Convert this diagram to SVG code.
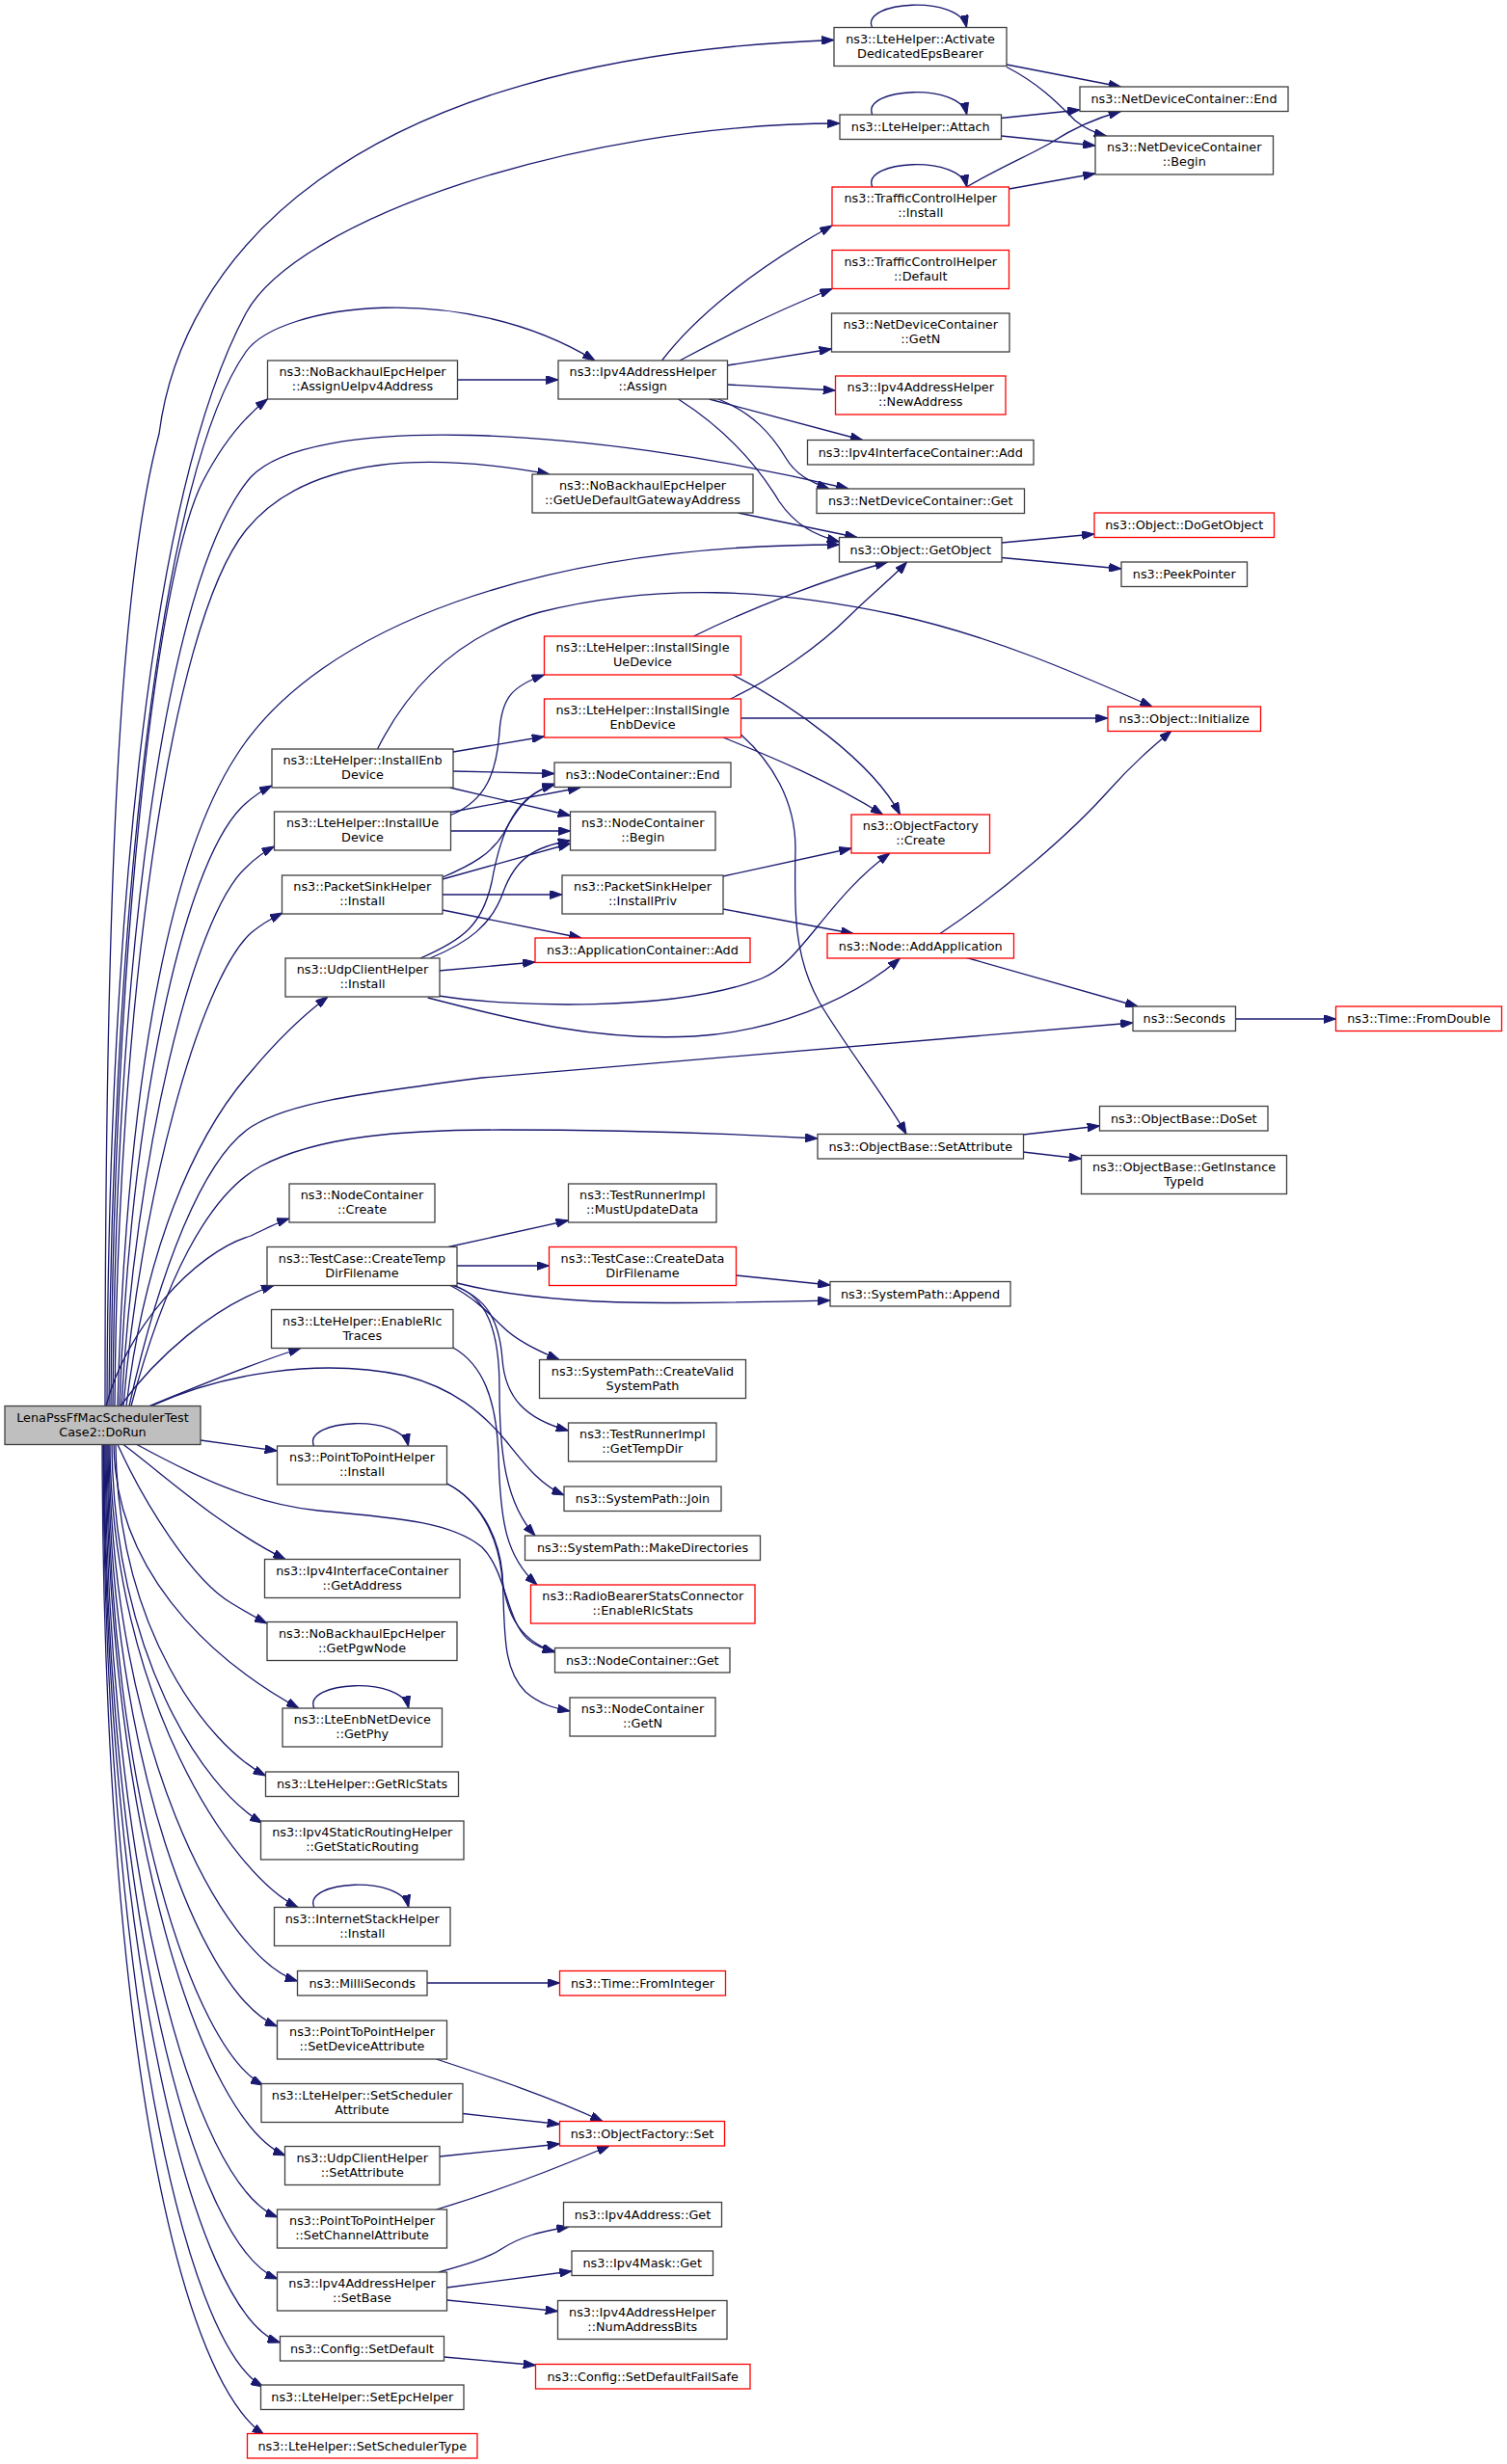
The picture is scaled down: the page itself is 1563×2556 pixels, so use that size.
<svg xmlns="http://www.w3.org/2000/svg" width="1563" height="2556" viewBox="0 0 1563 2556">
<defs>
<style>
.n rect{fill:#fff;stroke:#404040;stroke-width:1.3}
.n.r rect{stroke:#ff0000}
.n.root rect{fill:#bfbfbf}
text{font-family:"DejaVu Sans","Liberation Sans",sans-serif;font-size:12.8px;text-anchor:middle;fill:#000}
#edges path{fill:none;stroke:#191970;stroke-width:1.3;marker-end:url(#a)}
</style>
<marker id="a" viewBox="0 0 12.8 9" refX="12.8" refY="4.5" markerWidth="12.8" markerHeight="9" markerUnits="userSpaceOnUse" orient="auto">
<path d="M0,0L12.8,4.5L0,9z" fill="#191970" stroke="#191970" stroke-width="1"/>
</marker>
</defs>
<rect width="1563" height="2556" fill="#fff"/>
<g id="edges">
<path d="M109,1458.5 C109,900 125,600 165,450 C187.5,275 350,60 865,41.5"/>
<path d="M111,1458.5 C112,1000 150,520 255,325 C307.5,227.5 600,128 871,128"/>
<path d="M113,1458.5 C115,1000 160,500 255,365 C290,315 480,290 617,374"/>
<path d="M115,1458.5 C118,1000 160,600 210,500 C228,465 250,435 277.5,414"/>
<path d="M117,1458.5 C120,1000 170,600 260,495 C320,430 600,440 880,507"/>
<path d="M119,1458.5 C122,1050 175,650 255,550 C320,470 450,470 570,492"/>
<path d="M122,1458.5 C130,1150 170,900 245,784 C330,650 560,565 870.5,565"/>
<path d="M124,1458.5 C135,1150 190,900 250,838 C262,826 272,820 282,815"/>
<path d="M126,1458.5 C140,1200 200,950 255,900 C265,890 275,883 284.5,878"/>
<path d="M128,1458.5 C145,1250 205,1020 260,968 C272,958 283,952 293,947"/>
<path d="M131,1458.5 C150,1300 200,1180 260,1112 C285,1082 312,1055 340,1034"/>
<path d="M134,1458.5 C165,1320 210,1200 262,1168 C300,1145 360,1136 500,1118 L1175,1061"/>
<path d="M136,1458.5 C170,1330 215,1240 270,1210 C330,1178 420,1172 520,1172 C650,1172 760,1176 848,1181"/>
<path d="M110,1458.5 C130,1380 200,1300 260,1282 C275,1275 288,1268 300,1264"/>
<path d="M125,1458.5 C160,1410 220,1355 284,1333.5"/>
<path d="M155,1458.5 C200,1440 260,1415 312,1398.5"/>
<path d="M157,1458.5 C230,1425 330,1408 420,1427 C470,1440 500,1465 525,1495 C545,1520 560,1540 585,1551"/>
<path d="M208,1494 L287.5,1505"/>
<path d="M142,1498.5 C200,1530 260,1560 330,1567 C420,1575 470,1580 500,1605 C525,1630 525,1680 547,1700 C555,1707 565,1711 575.5,1713"/>
<path d="M128,1498.5 C170,1530 230,1585 296,1617.5"/>
<path d="M122,1498.5 C150,1560 200,1640 240,1663 C255,1672 265,1678 277,1684"/>
<path d="M118,1498.5 C120,1650 250,1740 310,1772"/>
<path d="M120,1498.5 C122,1690 215,1810 275.5,1842"/>
<path d="M116,1498.5 C118,1715 210,1855 272,1891"/>
<path d="M114,1498.5 C116,1760 240,1945 309,1978.5"/>
<path d="M113,1498.5 C115,1810 230,2030 308.5,2055"/>
<path d="M112,1498.5 C114,1830 210,2070 287.5,2102"/>
<path d="M111,1498.5 C113,1860 200,2125 273,2163"/>
<path d="M110,1498.5 C112,1900 210,2200 296,2236"/>
<path d="M109,1498.5 C111,1940 200,2265 288,2300"/>
<path d="M108,1498.5 C110,1980 200,2330 288,2364"/>
<path d="M107.5,1498.5 C109,2020 200,2400 290.5,2430"/>
<path d="M107,1498.5 C108,2050 190,2430 273,2476"/>
<path d="M106,1498.5 C107,2090 180,2460 274,2526"/>
<path d="M474.5,394 L579,394"/>
<path d="M470,780 L564.5,764"/>
<path d="M470,800 L575,802.5"/>
<path d="M466.5,817 L591.5,846"/>
<path d="M391.5,777 C420,720 470,660 560,635 C680,605 800,610 930,638 C1030,660 1120,700 1195,733"/>
<path d="M467.5,845.5 C505,830 515,800 518,760 C520,725 530,712 564.5,700"/>
<path d="M467.5,842.5 L601.8,817"/>
<path d="M467.5,862 L591.5,862"/>
<path d="M459,910 C490,897 510,885 522,865 C535,840 548,822 575,813"/>
<path d="M459,912 L591.5,875"/>
<path d="M459,928 L583,928"/>
<path d="M459,944 L603,973"/>
<path d="M436,994 C480,975 500,960 510,915 C520,860 535,825 575,814"/>
<path d="M446,994 C485,978 510,960 522,925 C535,890 555,878 591.5,872"/>
<path d="M455,1007 L555,998"/>
<path d="M455,1033 C530,1045 700,1050 790,1015 C830,1000 860,930 923,885"/>
<path d="M443.7,1035 C540,1060 620,1080 720,1075 C800,1070 880,1040 933.5,994"/>
<path d="M750,909 L883,880"/>
<path d="M750,943 L885,968.5"/>
<path d="M719.5,660 C780,630 860,600 920.5,583"/>
<path d="M760,700 C820,730 905,790 933.5,845"/>
<path d="M757.5,725 C800,705 850,670 880,640 C905,615 925,600 940.5,583"/>
<path d="M768.5,745 L1149,745"/>
<path d="M750,765 C800,785 860,810 915.6,845"/>
<path d="M768.5,762 C800,790 825,830 825,880 C824,940 822,990 850,1040 C880,1090 920,1140 940,1176.5"/>
<path d="M686.5,374 C720,330 780,280 863,234"/>
<path d="M705,374 C750,350 800,325 863,299.5"/>
<path d="M754.5,379 L862.5,362"/>
<path d="M754.5,399 L866.5,405"/>
<path d="M735.5,414 L894.6,456.5"/>
<path d="M745,414 C780,428 800,450 815,475 C825,492 840,500 860,507"/>
<path d="M703.5,414 C760,450 790,490 808,520 C825,545 845,555 870.5,562"/>
<path d="M765.5,532 L889,557.5"/>
<path d="M1039,563 L1135,554"/>
<path d="M1039,578.5 L1163,590"/>
<path d="M1038.5,122.5 L1120,114"/>
<path d="M1038.5,141 L1136,151"/>
<path d="M1044,67 L1162.5,90"/>
<path d="M1044,69.5 C1080,88 1100,110 1115,125 C1125,133 1135,138 1147.5,141"/>
<path d="M1002.5,194 C1040,172 1070,160 1090,148 C1110,135 1135,123 1162.5,115.5"/>
<path d="M1046.5,196 L1136,180"/>
<path d="M975,968.5 C1040,925 1110,865 1150,820 C1175,792 1195,775 1215,758"/>
<path d="M1002.5,993.5 L1180,1044"/>
<path d="M1281.5,1057 L1385.5,1057"/>
<path d="M1061,1177 L1140.5,1168"/>
<path d="M1061,1195 L1121.5,1202"/>
<path d="M465,1293.5 L589.5,1266"/>
<path d="M474,1313 L569.5,1313"/>
<path d="M474,1331 C530,1345 600,1352 700,1351.5 C780,1351 820,1350 861,1349"/>
<path d="M763.5,1323 L861,1333"/>
<path d="M466,1333 C490,1345 505,1360 520,1375 C535,1390 555,1400 580,1410.5"/>
<path d="M468,1333 C505,1345 518,1370 521,1410 C524,1450 545,1472 589.5,1484"/>
<path d="M470,1333 C505,1345 518,1380 518,1440 C518,1510 525,1560 555,1593"/>
<path d="M470,1398 C500,1415 515,1450 517,1510 C519,1580 525,1615 557,1644"/>
<path d="M463.5,1539 C495,1555 515,1590 520,1630 C524,1670 535,1700 575.5,1714"/>
<path d="M463.5,1539 C497,1556 517,1592 521,1632 C524,1690 520,1730 545,1755 C560,1768 575,1772 591,1775"/>
<path d="M904.5,28.5 C892.5,0.5 995.5,-5.5 1002.5,28.5"/>
<path d="M904.75,119 C892.75,91 995.75,85 1002.75,119"/>
<path d="M904.75,194 C892.75,166 995.75,160 1002.75,194"/>
<path d="M325.5,1500 C313.5,1472 416.5,1466 423.5,1500"/>
<path d="M325.75,1772 C313.75,1744 416.75,1738 423.75,1772"/>
<path d="M325.75,1978.5 C313.75,1950.5 416.75,1944.5 423.75,1978.5"/>
<path d="M443,2057 L580.5,2057"/>
<path d="M452.5,2136 C510,2155 570,2175 625,2200.5"/>
<path d="M480,2192.5 L580.5,2203.5"/>
<path d="M456,2237 L580.5,2224"/>
<path d="M452.5,2292 C520,2272 580,2248 632,2226"/>
<path d="M455,2357 C480,2350 505,2343 520,2333 C540,2320 560,2315 590,2310"/>
<path d="M463.5,2373 L593,2356"/>
<path d="M463.5,2386 L578.5,2397.5"/>
<path d="M460.5,2445 L555.5,2453.5"/>
</g>
<g id="n_dorun" class="n root"><rect x="5" y="1458.5" width="203" height="40"/><text x="106.5" y="1474.5">LenaPssFfMacSchedulerTest</text><text x="106.5" y="1489.5">Case2::DoRun</text></g>
<g id="n_assignue" class="n"><rect x="277.5" y="374" width="197" height="40"/><text x="376" y="390">ns3::NoBackhaulEpcHelper</text><text x="376" y="405">::AssignUeIpv4Address</text></g>
<g id="n_instenb" class="n"><rect x="282" y="777" width="188" height="40"/><text x="376" y="793">ns3::LteHelper::InstallEnb</text><text x="376" y="808">Device</text></g>
<g id="n_instue" class="n"><rect x="284.5" y="842" width="183" height="40"/><text x="376" y="858">ns3::LteHelper::InstallUe</text><text x="376" y="873">Device</text></g>
<g id="n_psinst" class="n"><rect x="292.5" y="908" width="166.5" height="40"/><text x="375.75" y="924">ns3::PacketSinkHelper</text><text x="375.75" y="939">::Install</text></g>
<g id="n_udpinst" class="n"><rect x="296" y="994" width="160" height="40"/><text x="376" y="1010">ns3::UdpClientHelper</text><text x="376" y="1025">::Install</text></g>
<g id="n_nccreate" class="n"><rect x="300" y="1228" width="151" height="40"/><text x="375.5" y="1244">ns3::NodeContainer</text><text x="375.5" y="1259">::Create</text></g>
<g id="n_tmpdir" class="n"><rect x="277" y="1293.5" width="197" height="40"/><text x="375.5" y="1309.5">ns3::TestCase::CreateTemp</text><text x="375.5" y="1324.5">DirFilename</text></g>
<g id="n_rlctr" class="n"><rect x="281.5" y="1358.5" width="188.5" height="40"/><text x="375.75" y="1374.5">ns3::LteHelper::EnableRlc</text><text x="375.75" y="1389.5">Traces</text></g>
<g id="n_p2pinst" class="n"><rect x="287.5" y="1500" width="176" height="40"/><text x="375.5" y="1516">ns3::PointToPointHelper</text><text x="375.5" y="1531">::Install</text></g>
<g id="n_getaddr" class="n"><rect x="274.5" y="1617.5" width="202.5" height="40"/><text x="375.75" y="1633.5">ns3::Ipv4InterfaceContainer</text><text x="375.75" y="1648.5">::GetAddress</text></g>
<g id="n_pgw" class="n"><rect x="277" y="1682.5" width="197" height="40"/><text x="375.5" y="1698.5">ns3::NoBackhaulEpcHelper</text><text x="375.5" y="1713.5">::GetPgwNode</text></g>
<g id="n_getphy" class="n"><rect x="293" y="1772" width="165.5" height="40"/><text x="375.75" y="1788">ns3::LteEnbNetDevice</text><text x="375.75" y="1803">::GetPhy</text></g>
<g id="n_rlcstats" class="n"><rect x="275.5" y="1838" width="200" height="25.5"/><text x="375.5" y="1855.25">ns3::LteHelper::GetRlcStats</text></g>
<g id="n_staticrt" class="n"><rect x="270.5" y="1889" width="210.5" height="40"/><text x="375.75" y="1905">ns3::Ipv4StaticRoutingHelper</text><text x="375.75" y="1920">::GetStaticRouting</text></g>
<g id="n_inetinst" class="n"><rect x="284.5" y="1978.5" width="182.5" height="40"/><text x="375.75" y="1994.5">ns3::InternetStackHelper</text><text x="375.75" y="2009.5">::Install</text></g>
<g id="n_milli" class="n"><rect x="308.5" y="2044.5" width="134.5" height="25.5"/><text x="375.75" y="2061.75">ns3::MilliSeconds</text></g>
<g id="n_setdev" class="n"><rect x="287.5" y="2096" width="176" height="40"/><text x="375.5" y="2112">ns3::PointToPointHelper</text><text x="375.5" y="2127">::SetDeviceAttribute</text></g>
<g id="n_setschedattr" class="n"><rect x="271" y="2161.5" width="209" height="40"/><text x="375.5" y="2177.5">ns3::LteHelper::SetScheduler</text><text x="375.5" y="2192.5">Attribute</text></g>
<g id="n_udpsetattr" class="n"><rect x="295.5" y="2226.5" width="160.5" height="40"/><text x="375.75" y="2242.5">ns3::UdpClientHelper</text><text x="375.75" y="2257.5">::SetAttribute</text></g>
<g id="n_setchan" class="n"><rect x="287.5" y="2292" width="176" height="40"/><text x="375.5" y="2308">ns3::PointToPointHelper</text><text x="375.5" y="2323">::SetChannelAttribute</text></g>
<g id="n_setbase" class="n"><rect x="287.5" y="2357" width="176" height="40"/><text x="375.5" y="2373">ns3::Ipv4AddressHelper</text><text x="375.5" y="2388">::SetBase</text></g>
<g id="n_cfgdef" class="n"><rect x="290.5" y="2423.5" width="170" height="25.5"/><text x="375.5" y="2440.75">ns3::Config::SetDefault</text></g>
<g id="n_setepc" class="n"><rect x="270.5" y="2474" width="210.5" height="25.5"/><text x="375.75" y="2491.25">ns3::LteHelper::SetEpcHelper</text></g>
<g id="n_setschedtype" class="n r"><rect x="256.5" y="2524.5" width="238.5" height="25.5"/><text x="375.75" y="2541.75">ns3::LteHelper::SetSchedulerType</text></g>
<g id="n_assign" class="n"><rect x="579" y="374" width="175.5" height="40"/><text x="666.75" y="390">ns3::Ipv4AddressHelper</text><text x="666.75" y="405">::Assign</text></g>
<g id="n_gwaddr" class="n"><rect x="552" y="492" width="229" height="40"/><text x="666.5" y="508">ns3::NoBackhaulEpcHelper</text><text x="666.5" y="523">::GetUeDefaultGatewayAddress</text></g>
<g id="n_singleue" class="n r"><rect x="564.5" y="660" width="204" height="40"/><text x="666.5" y="676">ns3::LteHelper::InstallSingle</text><text x="666.5" y="691">UeDevice</text></g>
<g id="n_singleenb" class="n r"><rect x="564.5" y="725" width="204" height="40"/><text x="666.5" y="741">ns3::LteHelper::InstallSingle</text><text x="666.5" y="756">EnbDevice</text></g>
<g id="n_ncend" class="n"><rect x="575" y="791" width="183" height="25.5"/><text x="666.5" y="808.25">ns3::NodeContainer::End</text></g>
<g id="n_ncbegin" class="n"><rect x="591.5" y="842" width="150.5" height="40"/><text x="666.75" y="858">ns3::NodeContainer</text><text x="666.75" y="873">::Begin</text></g>
<g id="n_instpriv" class="n"><rect x="583" y="908" width="167" height="40"/><text x="666.5" y="924">ns3::PacketSinkHelper</text><text x="666.5" y="939">::InstallPriv</text></g>
<g id="n_appadd" class="n r"><rect x="555" y="973" width="223" height="25.5"/><text x="666.5" y="990.25">ns3::ApplicationContainer::Add</text></g>
<g id="n_mustupd" class="n"><rect x="589.5" y="1228" width="153.5" height="40"/><text x="666.25" y="1244">ns3::TestRunnerImpl</text><text x="666.25" y="1259">::MustUpdateData</text></g>
<g id="n_datadir" class="n r"><rect x="569.5" y="1293.5" width="194" height="40"/><text x="666.5" y="1309.5">ns3::TestCase::CreateData</text><text x="666.5" y="1324.5">DirFilename</text></g>
<g id="n_validpath" class="n"><rect x="559.5" y="1410.5" width="214" height="40"/><text x="666.5" y="1426.5">ns3::SystemPath::CreateValid</text><text x="666.5" y="1441.5">SystemPath</text></g>
<g id="n_tempdir" class="n"><rect x="589.5" y="1476" width="153.5" height="40"/><text x="666.25" y="1492">ns3::TestRunnerImpl</text><text x="666.25" y="1507">::GetTempDir</text></g>
<g id="n_join" class="n"><rect x="585" y="1542" width="163" height="25.5"/><text x="666.5" y="1559.25">ns3::SystemPath::Join</text></g>
<g id="n_mkdirs" class="n"><rect x="544.5" y="1593" width="244" height="25.5"/><text x="666.5" y="1610.25">ns3::SystemPath::MakeDirectories</text></g>
<g id="n_rbsc" class="n r"><rect x="550.5" y="1644" width="232.5" height="40"/><text x="666.75" y="1660">ns3::RadioBearerStatsConnector</text><text x="666.75" y="1675">::EnableRlcStats</text></g>
<g id="n_ncget" class="n"><rect x="575.5" y="1709.5" width="181.5" height="25.5"/><text x="666.25" y="1726.75">ns3::NodeContainer::Get</text></g>
<g id="n_ncgetn" class="n"><rect x="591" y="1761" width="151" height="40"/><text x="666.5" y="1777">ns3::NodeContainer</text><text x="666.5" y="1792">::GetN</text></g>
<g id="n_fromint" class="n r"><rect x="580.5" y="2044.5" width="172" height="25.5"/><text x="666.5" y="2061.75">ns3::Time::FromInteger</text></g>
<g id="n_ofset" class="n r"><rect x="580.5" y="2200.5" width="171" height="25.5"/><text x="666" y="2217.75">ns3::ObjectFactory::Set</text></g>
<g id="n_ipget" class="n"><rect x="584.5" y="2284.5" width="164" height="25.5"/><text x="666.5" y="2301.75">ns3::Ipv4Address::Get</text></g>
<g id="n_maskget" class="n"><rect x="593" y="2335" width="146.5" height="25.5"/><text x="666.25" y="2352.25">ns3::Ipv4Mask::Get</text></g>
<g id="n_numbits" class="n"><rect x="578.5" y="2386.5" width="175.5" height="40"/><text x="666.25" y="2402.5">ns3::Ipv4AddressHelper</text><text x="666.25" y="2417.5">::NumAddressBits</text></g>
<g id="n_failsafe" class="n r"><rect x="555.5" y="2452.5" width="222.5" height="25.5"/><text x="666.75" y="2469.75">ns3::Config::SetDefaultFailSafe</text></g>
<g id="n_activate" class="n"><rect x="865" y="28.5" width="179" height="40"/><text x="954.5" y="44.5">ns3::LteHelper::Activate</text><text x="954.5" y="59.5">DedicatedEpsBearer</text></g>
<g id="n_attach" class="n"><rect x="871" y="119" width="167.5" height="25.5"/><text x="954.75" y="136.25">ns3::LteHelper::Attach</text></g>
<g id="n_tcinst" class="n r"><rect x="863" y="194" width="183.5" height="40"/><text x="954.75" y="210">ns3::TrafficControlHelper</text><text x="954.75" y="225">::Install</text></g>
<g id="n_tcdef" class="n r"><rect x="863" y="259.5" width="183.5" height="40"/><text x="954.75" y="275.5">ns3::TrafficControlHelper</text><text x="954.75" y="290.5">::Default</text></g>
<g id="n_ndgetn" class="n"><rect x="862.5" y="325" width="184.5" height="40"/><text x="954.75" y="341">ns3::NetDeviceContainer</text><text x="954.75" y="356">::GetN</text></g>
<g id="n_newaddr" class="n r"><rect x="866.5" y="390" width="176.5" height="40"/><text x="954.75" y="406">ns3::Ipv4AddressHelper</text><text x="954.75" y="421">::NewAddress</text></g>
<g id="n_ifadd" class="n"><rect x="837.5" y="456.5" width="234.5" height="25.5"/><text x="954.75" y="473.75">ns3::Ipv4InterfaceContainer::Add</text></g>
<g id="n_ndget" class="n"><rect x="847" y="507" width="215.5" height="25.5"/><text x="954.75" y="524.25">ns3::NetDeviceContainer::Get</text></g>
<g id="n_getobj" class="n"><rect x="870.5" y="557.5" width="168.5" height="25.5"/><text x="954.75" y="574.75">ns3::Object::GetObject</text></g>
<g id="n_ofcreate" class="n r"><rect x="883" y="845" width="143.5" height="40"/><text x="954.75" y="861">ns3::ObjectFactory</text><text x="954.75" y="876">::Create</text></g>
<g id="n_addapp" class="n r"><rect x="858" y="968.5" width="193.5" height="25.5"/><text x="954.75" y="985.75">ns3::Node::AddApplication</text></g>
<g id="n_setattr" class="n"><rect x="848" y="1176.5" width="213.5" height="25.5"/><text x="954.75" y="1193.75">ns3::ObjectBase::SetAttribute</text></g>
<g id="n_append" class="n"><rect x="861" y="1329.5" width="187" height="25.5"/><text x="954.5" y="1346.75">ns3::SystemPath::Append</text></g>
<g id="n_ndend" class="n"><rect x="1120" y="90" width="216" height="25.5"/><text x="1228" y="107.25">ns3::NetDeviceContainer::End</text></g>
<g id="n_ndbegin" class="n"><rect x="1136" y="141" width="184.5" height="40"/><text x="1228.25" y="157">ns3::NetDeviceContainer</text><text x="1228.25" y="172">::Begin</text></g>
<g id="n_dogetobj" class="n r"><rect x="1135" y="532" width="186.5" height="25.5"/><text x="1228.25" y="549.25">ns3::Object::DoGetObject</text></g>
<g id="n_peek" class="n"><rect x="1163" y="583" width="130.5" height="25.5"/><text x="1228.25" y="600.25">ns3::PeekPointer</text></g>
<g id="n_init" class="n r"><rect x="1149" y="733" width="158.5" height="25.5"/><text x="1228.25" y="750.25">ns3::Object::Initialize</text></g>
<g id="n_seconds" class="n"><rect x="1175" y="1044" width="106.5" height="25.5"/><text x="1228.25" y="1061.25">ns3::Seconds</text></g>
<g id="n_doset" class="n"><rect x="1140.5" y="1147.5" width="174.5" height="25.5"/><text x="1227.75" y="1164.75">ns3::ObjectBase::DoSet</text></g>
<g id="n_typeid" class="n"><rect x="1121.5" y="1198.5" width="213" height="40"/><text x="1228" y="1214.5">ns3::ObjectBase::GetInstance</text><text x="1228" y="1229.5">TypeId</text></g>
<g id="n_fromdbl" class="n r"><rect x="1385.5" y="1044" width="172" height="25.5"/><text x="1471.5" y="1061.25">ns3::Time::FromDouble</text></g>
</svg>
